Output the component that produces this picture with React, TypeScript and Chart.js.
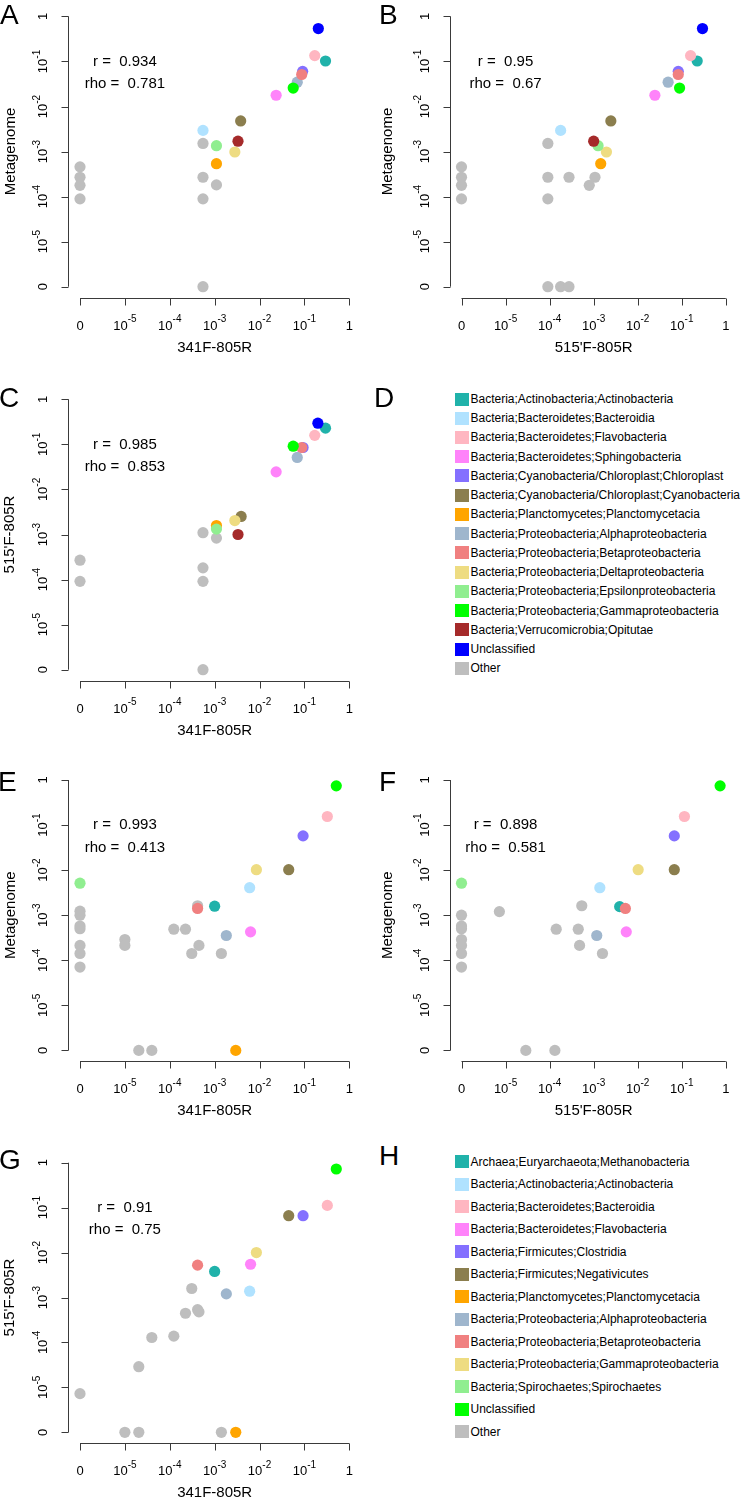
import React, { useEffect, useRef } from "react";
import { Chart, registerables } from "chart.js";

Chart.register(...registerables);

const FONT = '"Liberation Sans", Arial, Helvetica, sans-serif';

// Axis positions are log10(relative abundance); -6 stands for an abundance of 0.
const TICK_VALUES = [-6, -5, -4, -3, -2, -1, 0];
const TICK_BASES = ["0", "10", "10", "10", "10", "10", "1"];
const TICK_EXPS = ["", "-5", "-4", "-3", "-2", "-1", ""];

const LEGEND1_LABELS = [
  "Bacteria;Actinobacteria;Actinobacteria",
  "Bacteria;Bacteroidetes;Bacteroidia",
  "Bacteria;Bacteroidetes;Flavobacteria",
  "Bacteria;Bacteroidetes;Sphingobacteria",
  "Bacteria;Cyanobacteria/Chloroplast;Chloroplast",
  "Bacteria;Cyanobacteria/Chloroplast;Cyanobacteria",
  "Bacteria;Planctomycetes;Planctomycetacia",
  "Bacteria;Proteobacteria;Alphaproteobacteria",
  "Bacteria;Proteobacteria;Betaproteobacteria",
  "Bacteria;Proteobacteria;Deltaproteobacteria",
  "Bacteria;Proteobacteria;Epsilonproteobacteria",
  "Bacteria;Proteobacteria;Gammaproteobacteria",
  "Bacteria;Verrucomicrobia;Opitutae",
  "Unclassified",
  "Other",
];
const LEGEND1_COLORS = [
  "#20B2AA", "#B0E2FF", "#FFB6C1", "#FF83FA", "#8470FF", "#8B7E4E", "#FFA500",
  "#9FB6CD", "#F08080", "#EEDC82", "#90EE90", "#00FF00", "#A52A2A", "#0000FF", "#BEBEBE",
];

const LEGEND2_LABELS = [
  "Archaea;Euryarchaeota;Methanobacteria",
  "Bacteria;Actinobacteria;Actinobacteria",
  "Bacteria;Bacteroidetes;Bacteroidia",
  "Bacteria;Bacteroidetes;Flavobacteria",
  "Bacteria;Firmicutes;Clostridia",
  "Bacteria;Firmicutes;Negativicutes",
  "Bacteria;Planctomycetes;Planctomycetacia",
  "Bacteria;Proteobacteria;Alphaproteobacteria",
  "Bacteria;Proteobacteria;Betaproteobacteria",
  "Bacteria;Proteobacteria;Gammaproteobacteria",
  "Bacteria;Spirochaetes;Spirochaetes",
  "Unclassified",
  "Other",
];
const LEGEND2_COLORS = [
  "#20B2AA", "#B0E2FF", "#FFB6C1", "#FF83FA", "#8470FF", "#8B7E4E", "#FFA500",
  "#9FB6CD", "#F08080", "#EEDC82", "#90EE90", "#00FF00", "#BEBEBE",
];

// Panel A: 341F-805R (x) vs Metagenome (y), legend 1
const A_X = [-0.53, -3.26, -0.77, -1.63, -1.04, -2.42, -2.96, -1.16, -1.06, -2.55, -2.96, -1.25, -2.48, -0.69,
  -3.26, -3.26, -2.96, -3.26, -3.26, -6, -6, -6, -6];
const A_Y = [-0.99, -2.53, -0.87, -1.75, -1.22, -2.32, -3.27, -1.46, -1.29, -3.01, -2.87, -1.59, -2.77, -0.27,
  -2.82, -3.57, -3.74, -4.05, -6, -3.34, -3.57, -3.75, -4.05];
const A_CAT = [0, 1, 2, 3, 4, 5, 6, 7, 8, 9, 10, 11, 12, 13, 14, 14, 14, 14, 14, 14, 14, 14, 14];

// Panel B: 515'F-805R (x) vs Metagenome (y), legend 1
const B_X = [-0.65, -3.75, -0.80, -1.61, -1.08, -2.61, -2.84, -1.31, -1.08, -2.71, -2.90, -1.05, -3.00, -0.53,
  -4.04, -4.04, -3.56, -4.04, -2.97, -3.10, -4.04, -3.75, -3.56, -6, -6, -6, -6];
const B_Y = [-0.99, -2.53, -0.87, -1.75, -1.22, -2.32, -3.27, -1.46, -1.29, -3.01, -2.87, -1.59, -2.77, -0.27,
  -2.82, -3.57, -3.57, -4.05, -3.57, -3.75, -6, -6, -6, -3.34, -3.57, -3.75, -4.05];
const B_CAT = [0, 1, 2, 3, 4, 5, 6, 7, 8, 9, 10, 11, 12, 13, 14, 14, 14, 14, 14, 14, 14, 14, 14, 14, 14, 14, 14];

// Panel C: 341F-805R (x) vs 515'F-805R (y), legend 1
const C_X = [-0.53, -0.77, -1.63, -1.03, -2.41, -2.96, -1.16, -1.06, -2.55, -2.96, -1.25, -2.48, -0.70,
  -3.26, -2.96, -3.26, -3.26, -3.26, -6, -6];
const C_Y = [-0.64, -0.80, -1.61, -1.07, -2.60, -2.80, -1.29, -1.07, -2.69, -2.88, -1.04, -3.00, -0.53,
  -2.96, -3.08, -3.74, -4.04, -6, -3.57, -4.04];
const C_CAT = [0, 2, 3, 4, 5, 6, 7, 8, 9, 10, 11, 12, 13, 14, 14, 14, 14, 14, 14, 14];

// Panel E: 341F-805R (x) vs Metagenome (y), legend 2
const E_X = [-3.00, -2.22, -0.49, -2.20, -1.03, -1.35, -2.53, -2.74, -3.38, -2.07, -6, -0.29,
  -6, -6, -6, -6, -6, -6, -6, -5.0, -5.0, -3.91, -3.65, -3.38, -3.35, -3.51, -2.85, -4.69, -4.40];
const E_Y = [-2.80, -2.39, -0.81, -3.37, -1.24, -1.99, -6, -3.45, -2.85, -1.99, -2.29, -0.13,
  -2.91, -3.00, -3.24, -3.30, -3.67, -3.85, -4.15, -3.54, -3.67, -3.31, -3.31, -2.79, -3.67, -3.85, -3.85, -6, -6];
const E_CAT = [0, 1, 2, 3, 4, 5, 6, 7, 8, 9, 10, 11,
  12, 12, 12, 12, 12, 12, 12, 12, 12, 12, 12, 12, 12, 12, 12, 12, 12];

// Panel F: 515'F-805R (x) vs Metagenome (y), legend 2
const F_X = [-2.41, -2.86, -0.94, -2.26, -1.17, -1.17, -2.93, -2.28, -1.99, -6, -0.13,
  -6, -6, -6, -6, -6, -6, -6, -5.14, -3.27, -3.85, -3.35, -3.32, -2.80, -4.54, -3.88];
const F_Y = [-2.81, -2.39, -0.81, -3.37, -1.24, -1.99, -3.45, -2.85, -1.99, -2.29, -0.13,
  -3.00, -3.24, -3.30, -3.54, -3.67, -3.85, -4.15, -2.92, -2.79, -3.31, -3.31, -3.67, -3.85, -6, -6];
const F_CAT = [0, 1, 2, 3, 4, 5, 7, 8, 9, 10, 11,
  12, 12, 12, 12, 12, 12, 12, 12, 12, 12, 12, 12, 12, 12, 12];

// Panel G: 341F-805R (x) vs 515'F-805R (y), legend 2
const G_X = [-3.00, -2.22, -0.49, -2.20, -1.03, -1.35, -2.53, -2.74, -3.38, -2.07, -0.29,
  -3.51, -3.65, -3.38, -3.35, -4.40, -3.91, -4.69, -6, -5.0, -4.69, -2.85];
const G_Y = [-2.42, -2.86, -0.95, -2.26, -1.18, -1.18, -6, -2.92, -2.28, -2.00, -0.14,
  -2.80, -3.35, -3.27, -3.32, -3.89, -3.86, -4.54, -5.14, -6, -6, -6];
const G_CAT = [0, 1, 2, 3, 4, 5, 6, 7, 8, 9, 11,
  12, 12, 12, 12, 12, 12, 12, 12, 12, 12, 12];

const R_VALUES = ["0.934", "0.95", "0.985", "0.993", "0.898", "0.91"];
const RHO_VALUES = ["0.781", "0.67", "0.853", "0.413", "0.581", "0.75"];

type PanelCfg = {
  left: number; top: number; w: number; h: number;
  x0: number; x1: number; y1: number; y0: number;
  xTitle: string; yTitle: string; yTitleX: number;
  xs: number[]; ys: number[]; cats: number[];
  colors: string[]; r: string; rho: string;
};

const PANELS: PanelCfg[] = [
  { left: 0, top: 0, w: 371, h: 372, x0: 80.0, x1: 349.3, y1: 16.3, y0: 286.7,
    xTitle: "341F-805R", yTitle: "Metagenome", yTitleX: 11,
    xs: A_X, ys: A_Y, cats: A_CAT, colors: LEGEND1_COLORS, r: R_VALUES[0], rho: RHO_VALUES[0] },
  { left: 371, top: 0, w: 371, h: 372, x0: 461.7, x1: 731.0, y1: 16.3, y0: 286.7,
    xTitle: "515'F-805R", yTitle: "Metagenome", yTitleX: 388,
    xs: B_X, ys: B_Y, cats: B_CAT, colors: LEGEND1_COLORS, r: R_VALUES[1], rho: RHO_VALUES[1] },
  { left: 0, top: 375, w: 371, h: 385, x0: 80.0, x1: 349.3, y1: 399.3, y0: 669.7,
    xTitle: "341F-805R", yTitle: "515'F-805R", yTitleX: 10,
    xs: C_X, ys: C_Y, cats: C_CAT, colors: LEGEND1_COLORS, r: R_VALUES[2], rho: RHO_VALUES[2] },
  { left: 0, top: 760, w: 371, h: 380, x0: 80.0, x1: 349.3, y1: 780.0, y0: 1050.4,
    xTitle: "341F-805R", yTitle: "Metagenome", yTitleX: 11,
    xs: E_X, ys: E_Y, cats: E_CAT, colors: LEGEND2_COLORS, r: R_VALUES[3], rho: RHO_VALUES[3] },
  { left: 371, top: 760, w: 371, h: 380, x0: 461.7, x1: 731.0, y1: 780.0, y0: 1050.4,
    xTitle: "515'F-805R", yTitle: "Metagenome", yTitleX: 388,
    xs: F_X, ys: F_Y, cats: F_CAT, colors: LEGEND2_COLORS, r: R_VALUES[4], rho: RHO_VALUES[4] },
  { left: 0, top: 1140, w: 371, h: 362, x0: 80.0, x1: 349.3, y1: 1162.7, y0: 1432.3,
    xTitle: "341F-805R", yTitle: "515'F-805R", yTitleX: 10,
    xs: G_X, ys: G_Y, cats: G_CAT, colors: LEGEND2_COLORS, r: R_VALUES[5], rho: RHO_VALUES[5] },
];

function drawTickLabel(ctx: CanvasRenderingContext2D, base: string, exp: string, cx: number, baseY: number) {
  ctx.font = `13px ${FONT}`;
  const wb = ctx.measureText(base).width;
  ctx.font = `10px ${FONT}`;
  const we = exp ? ctx.measureText(exp).width : 0;
  const x0 = cx - (wb + we) / 2;
  ctx.textAlign = "left";
  ctx.textBaseline = "alphabetic";
  ctx.font = `13px ${FONT}`;
  ctx.fillText(base, x0, baseY);
  if (exp) {
    ctx.font = `10px ${FONT}`;
    ctx.fillText(exp, x0 + wb, baseY - 7.5);
  }
}

const rAxesPlugin = {
  id: "rAxes",
  afterDraw(chart: any) {
    const cfg: PanelCfg = chart.config.options.plugins.rAxes.cfg;
    const ctx: CanvasRenderingContext2D = chart.ctx;
    const sx = chart.scales.x;
    const sy = chart.scales.y;
    const area = chart.chartArea;
    ctx.save();
    ctx.strokeStyle = "#3a3a3a";
    ctx.fillStyle = "#000";
    ctx.lineWidth = 1;

    // x axis
    const xa = sx.getPixelForValue(TICK_VALUES[0]);
    const xb = sx.getPixelForValue(TICK_VALUES[TICK_VALUES.length - 1]);
    const yLine = Math.round(area.bottom) + 0.5;
    ctx.beginPath();
    ctx.moveTo(xa, yLine);
    ctx.lineTo(xb, yLine);
    TICK_VALUES.forEach((v) => {
      const px = Math.round(sx.getPixelForValue(v)) + 0.5;
      ctx.moveTo(px, yLine);
      ctx.lineTo(px, yLine + 7);
    });
    // y axis
    const ya = sy.getPixelForValue(TICK_VALUES[0]);
    const yb = sy.getPixelForValue(TICK_VALUES[TICK_VALUES.length - 1]);
    const xLine = Math.round(area.left) - 0.5;
    ctx.moveTo(xLine, ya);
    ctx.lineTo(xLine, yb);
    TICK_VALUES.forEach((v) => {
      const py = Math.round(sy.getPixelForValue(v)) + 0.5;
      ctx.moveTo(xLine, py);
      ctx.lineTo(xLine - 7, py);
    });
    ctx.stroke();

    // tick labels
    TICK_VALUES.forEach((v, i) => {
      drawTickLabel(ctx, TICK_BASES[i], TICK_EXPS[i], sx.getPixelForValue(v), area.bottom + 32);
      ctx.save();
      ctx.translate(area.left - 22, sy.getPixelForValue(v));
      ctx.rotate(-Math.PI / 2);
      drawTickLabel(ctx, TICK_BASES[i], TICK_EXPS[i], 0, 0);
      ctx.restore();
    });

    // axis titles
    ctx.font = `15px ${FONT}`;
    ctx.textAlign = "center";
    ctx.textBaseline = "middle";
    ctx.fillText(cfg.xTitle, (xa + xb) / 2, area.bottom + 50);
    ctx.save();
    ctx.translate(cfg.yTitleX - cfg.left, (ya + yb) / 2);
    ctx.rotate(-Math.PI / 2);
    ctx.fillText(cfg.yTitle, 0, 0);
    ctx.restore();

    // correlation annotations, placed in data coordinates
    ctx.fillText("r =  " + cfg.r, sx.getPixelForValue(-5), sy.getPixelForValue(-1));
    ctx.fillText("rho =  " + cfg.rho, sx.getPixelForValue(-5), sy.getPixelForValue(-1.5));
    ctx.restore();
  },
};

function Panel({ cfg }: { cfg: PanelCfg }) {
  const ref = useRef<HTMLCanvasElement>(null);
  useEffect(() => {
    const canvas = ref.current;
    if (!canvas) return;
    const uX = (cfg.x1 - cfg.x0) / 6;
    const uY = (cfg.y0 - cfg.y1) / 6;
    const padding = {
      left: cfg.x0 - 0.24 * uX - cfg.left,
      right: cfg.left + cfg.w - (cfg.x1 + 0.24 * uX),
      top: cfg.y1 - 0.24 * uY - cfg.top,
      bottom: cfg.top + cfg.h - (cfg.y0 + 0.24 * uY),
    };
    const otherIdx = cfg.colors.length - 1;
    const order = cfg.xs
      .map((_, i) => i)
      .sort((a, b) => {
        const ka = cfg.cats[a] === otherIdx ? -1 : cfg.cats[a];
        const kb = cfg.cats[b] === otherIdx ? -1 : cfg.cats[b];
        return ka - kb || a - b;
      });
    const data = order.map((i) => ({ x: cfg.xs[i], y: cfg.ys[i] }));
    const colors = order.map((i) => cfg.colors[cfg.cats[i]]);
    const chart = new Chart(canvas, {
      type: "scatter",
      data: {
        datasets: [
          {
            data,
            backgroundColor: colors,
            pointBackgroundColor: colors,
            pointBorderWidth: 0,
            borderWidth: 0,
            pointRadius: 5.6,
            pointHoverRadius: 5.6,
          } as any,
        ],
      },
      options: {
        animation: false,
        responsive: false,
        maintainAspectRatio: false,
        devicePixelRatio: 1,
        events: [],
        layout: { padding },
        plugins: {
          legend: { display: false },
          tooltip: { enabled: false },
          rAxes: { cfg },
        } as any,
        scales: {
          x: { type: "linear", min: -6.24, max: 0.24, display: false },
          y: { type: "linear", min: -6.24, max: 0.24, display: false },
        },
      },
      plugins: [rAxesPlugin],
    });
    return () => chart.destroy();
  }, [cfg]);
  return (
    <canvas
      ref={ref}
      width={cfg.w}
      height={cfg.h}
      style={{ position: "absolute", left: cfg.left, top: cfg.top, width: cfg.w, height: cfg.h }}
    />
  );
}

function Legend({ labels, colors, firstY, pitch }: { labels: string[]; colors: string[]; firstY: number; pitch: number }) {
  return (
    <>
      {labels.map((lab, i) => {
        const cy = firstY + i * pitch;
        return (
          <React.Fragment key={lab + i}>
            <div style={{ position: "absolute", left: 455, top: cy - 6.5, width: 14, height: 13, background: colors[i] }} />
            <div
              style={{
                position: "absolute", left: 470.5, top: cy - 7, height: 14, lineHeight: "14px",
                fontSize: 12, fontFamily: FONT, color: "#000", whiteSpace: "nowrap",
              }}
            >
              {lab}
            </div>
          </React.Fragment>
        );
      })}
    </>
  );
}

const LETTERS: [string, number, number][] = [
  ["A", 0, 25], ["B", 379, 25], ["C", -1, 408], ["D", 374, 408],
  ["E", -2, 792], ["F", 379, 792], ["G", -1, 1170], ["H", 379, 1166],
];

export default function App() {
  return (
    <div style={{ position: "absolute", left: 0, top: 0, width: 742, height: 1502, background: "#fff", overflow: "hidden" }}>
      {PANELS.map((p, i) => (
        <Panel key={i} cfg={p} />
      ))}
      <Legend labels={LEGEND1_LABELS} colors={LEGEND1_COLORS} firstY={399} pitch={19.24} />
      <Legend labels={LEGEND2_LABELS} colors={LEGEND2_COLORS} firstY={1161.7} pitch={22.5} />
      {LETTERS.map(([t, x, base]) => (
        <div
          key={t}
          style={{
            position: "absolute", left: x, top: base - 23.7, fontSize: 28, lineHeight: "28px",
            fontFamily: FONT, color: "#000",
          }}
        >
          {t}
        </div>
      ))}
    </div>
  );
}
